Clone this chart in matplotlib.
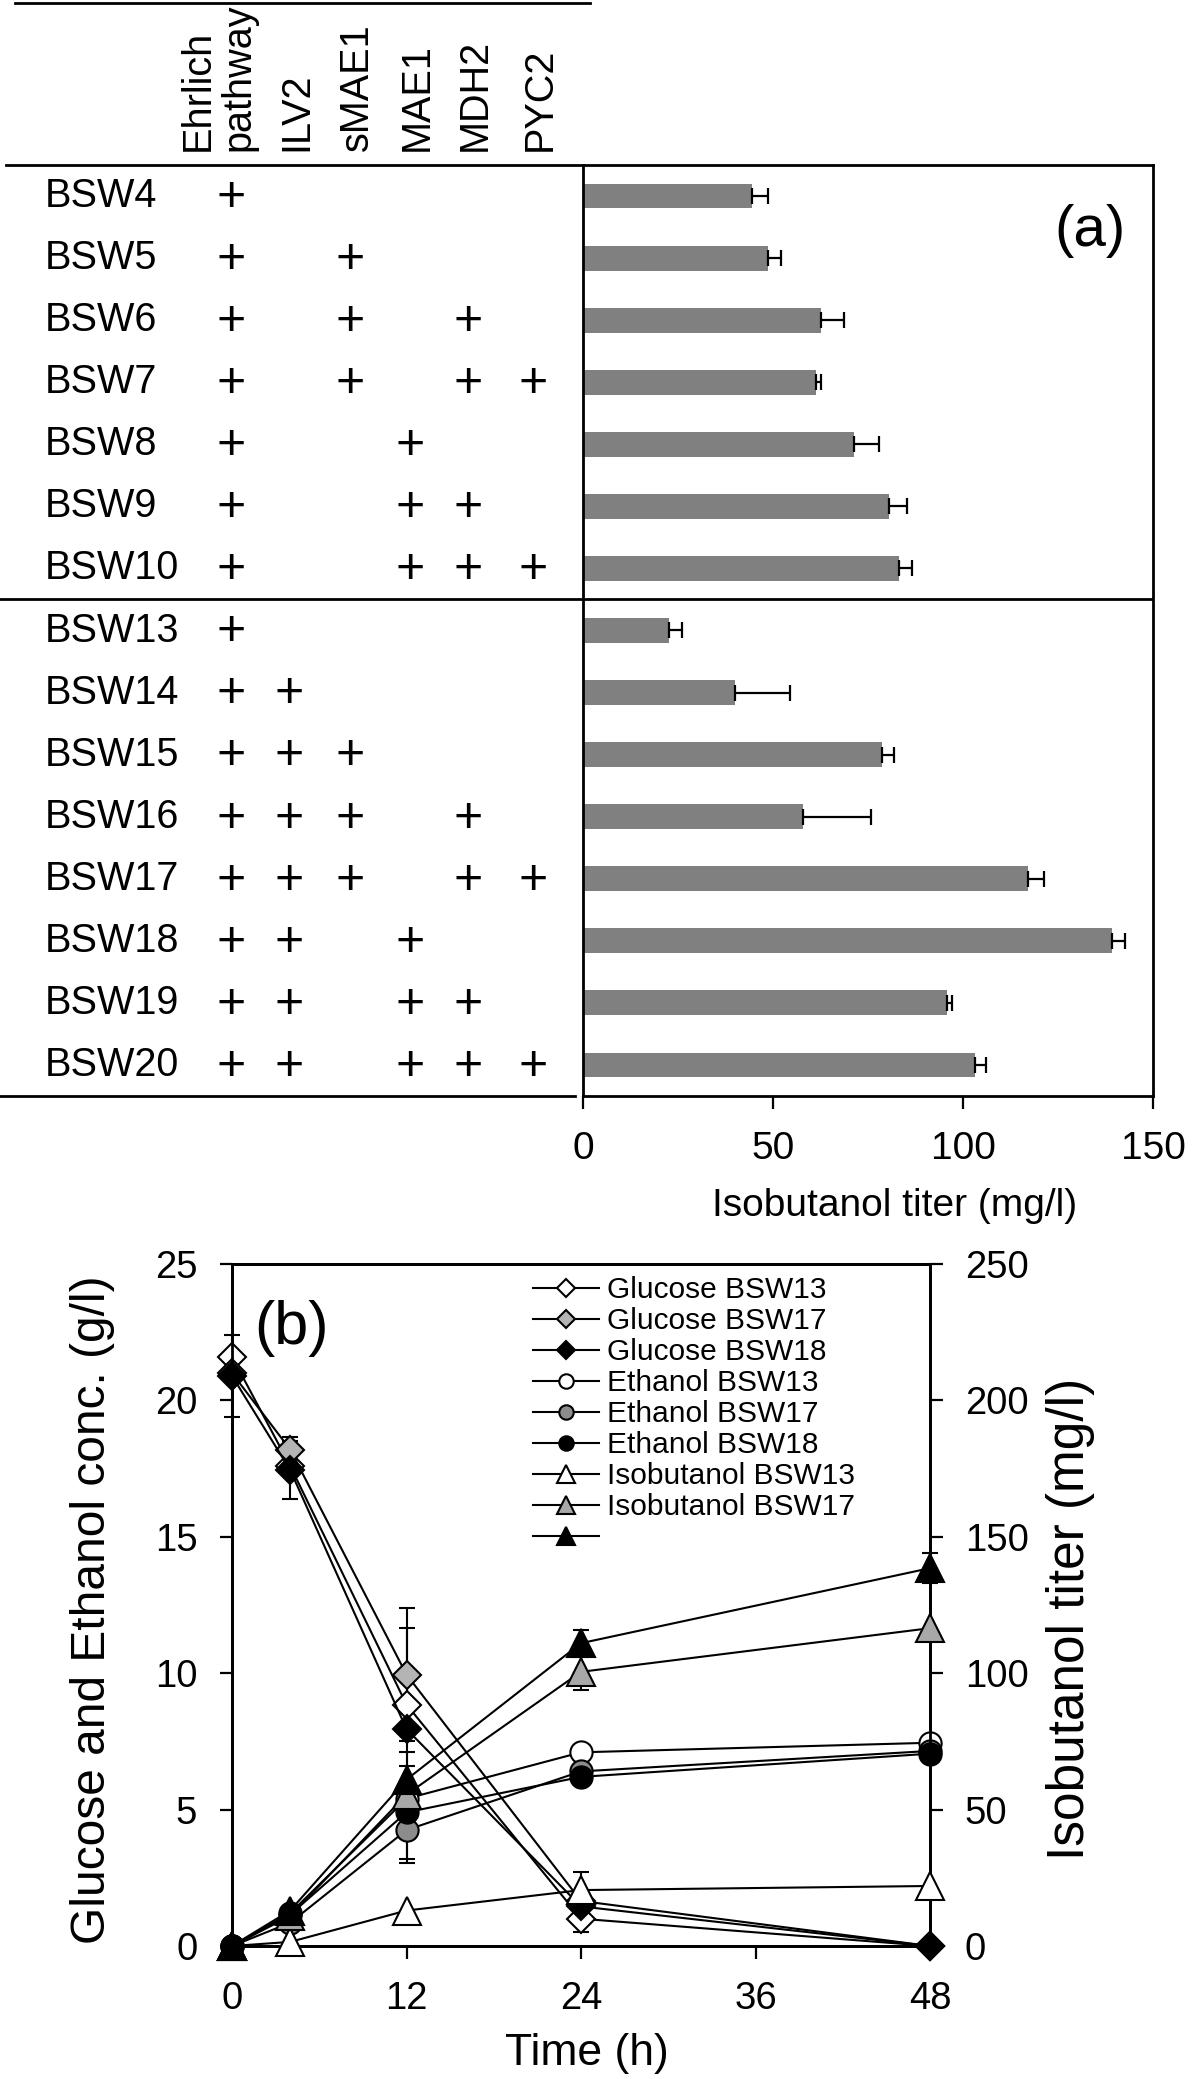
import numpy as np
import matplotlib
matplotlib.use('Agg')
import matplotlib.pyplot as plt
from matplotlib.lines import Line2D

plt.rcParams['font.family'] = ['Liberation Sans', 'DejaVu Sans']

# ---------------- Panel (a) data ----------------
strains = ['BSW4', 'BSW5', 'BSW6', 'BSW7', 'BSW8', 'BSW9', 'BSW10',
           'BSW13', 'BSW14', 'BSW15', 'BSW16', 'BSW17', 'BSW18', 'BSW19', 'BSW20']
genes = ['Ehrlich\npathway', 'ILV2', 'sMAE1', 'MAE1', 'MDH2', 'PYC2']
# presence of each modification (columns follow `genes`)
modifications = [
    [1, 0, 0, 0, 0, 0],
    [1, 0, 1, 0, 0, 0],
    [1, 0, 1, 0, 1, 0],
    [1, 0, 1, 0, 1, 1],
    [1, 0, 0, 1, 0, 0],
    [1, 0, 0, 1, 1, 0],
    [1, 0, 0, 1, 1, 1],
    [1, 0, 0, 0, 0, 0],
    [1, 1, 0, 0, 0, 0],
    [1, 1, 1, 0, 0, 0],
    [1, 1, 1, 0, 1, 0],
    [1, 1, 1, 0, 1, 1],
    [1, 1, 0, 1, 0, 0],
    [1, 1, 0, 1, 1, 0],
    [1, 1, 0, 1, 1, 1],
]
titer = [44.6, 48.6, 62.6, 61.2, 71.2, 80.5, 83.2,
         22.7, 40.1, 78.6, 57.9, 117.1, 139.1, 95.9, 103.1]
titer_err = [4.0, 3.4, 6.0, 1.4, 6.8, 4.8, 3.4,
             3.4, 14.3, 3.3, 17.9, 4.1, 3.5, 1.3, 3.0]
group_break = 7  # BSW4-10 | BSW13-20
xticks_a = [0, 50, 100, 150]

# ---------------- Panel (b) data ----------------
time_h = [0, 4, 12, 24, 48]
glucose_13 = [21.6, 17.6, 8.85, 1.0, 0.0]
glucose_17 = [21.0, 18.2, 9.95, 1.65, 0.0]
glucose_18 = [20.9, 17.45, 7.95, 1.45, 0.0]
glucose_13_err = [0, 0, 2.8, 0.5, 0]
glucose_17_err = [0, 0.45, 2.45, 0, 0]
glucose_18_err = [1.5, 1.08, 0, 0, 0]
ethanol_13 = [0.0, 1.2, 5.4, 7.1, 7.45]
ethanol_17 = [0.0, 0.85, 4.25, 6.4, 7.15]
ethanol_18 = [0.0, 1.15, 4.9, 6.2, 7.05]
ethanol_13_err = [0, 0, 0, 0, 0]
ethanol_17_err = [0, 0, 1.2, 0, 0]
ethanol_18_err = [0, 0, 1.7, 0, 0]
isobutanol_13 = [0.0, 1.5, 13.0, 20.5, 22.0]
isobutanol_17 = [0.0, 11.0, 55.5, 100.5, 116.5]
isobutanol_18 = [0.0, 13.0, 61.0, 111.0, 138.5]
isobutanol_13_err = [0, 0, 0, 6.5, 0]
isobutanol_17_err = [0, 0, 0, 6.7, 0]
isobutanol_18_err = [0, 0, 10.0, 5.0, 5.5]
legend_labels = ['Glucose BSW13', 'Glucose BSW17', 'Glucose BSW18',
                 'Ethanol BSW13', 'Ethanol BSW17', 'Ethanol BSW18',
                 'Isobutanol BSW13', 'Isobutanol BSW17', ' ']

W, H = 1200, 2079
fig = plt.figure(figsize=(W / 100, H / 100), dpi=100)

# ================= Panel (a) =================
a_left, a_right, a_top, a_bot = 583, 1153, 165, 1096
ax_a = fig.add_axes([a_left / W, 1 - a_bot / H, (a_right - a_left) / W, (a_bot - a_top) / H])
ax_t = fig.add_axes([0, 1 - a_bot / H, a_left / W, (a_bot - a_top) / H], sharey=ax_a)

ypos = np.arange(len(strains))
ax_a.barh(ypos, titer, height=0.4, color='#808080', zorder=2)
ax_a.errorbar(titer, ypos, xerr=[np.zeros(len(titer)), titer_err], fmt='none',
              ecolor='black', elinewidth=1.6, capsize=5.5, capthick=1.6, zorder=3)
ax_a.set_xlim(0, 150)
ax_a.set_ylim(len(strains) - 0.5, -0.5)
ax_a.axhline(group_break - 0.5, color='black', lw=2)
ax_a.set_xticks(xticks_a)
ax_a.set_yticks([])
ax_a.tick_params(axis='x', direction='out', length=9, width=1.6, labelsize=28, pad=16)
for sp in ax_a.spines.values():
    sp.set_linewidth(2)
ax_a.set_xlabel('Isobutanol titer (mg/l)', fontsize=28)
ax_a.xaxis.set_label_coords(0.547, -0.118)
ax_a.xaxis.label.set_va('center')
ax_a.text(0.889, 0.929, '(a)', transform=ax_a.transAxes, fontsize=42,
          ha='center', va='center')

# table on the left
ax_t.set_xlim(0, a_left)
ax_t.axis('off')
col_x = [231, 289, 350, 410, 468, 533]
for i, s in enumerate(strains):
    ax_t.text(45, i, s, ha='left', va='center', fontsize=28.5)
    for j, flag in enumerate(modifications[i]):
        if flag:
            ax_t.text(col_x[j], i + 0.03, '+', ha='center', va='center', fontsize=36)
header_y = -0.5 - 14 / 62.07
for j, g in enumerate(genes):
    lines = g.split('\n')
    for k, line in enumerate(lines):
        x = col_x[j] + 7 + (k - (len(lines) - 1)) * 40
        ax_t.text(x, header_y, line, rotation=90, ha='center', va='bottom',
                  fontsize=28.5, clip_on=False)
ax_t.plot([6, a_left], [-0.5, -0.5], color='black', lw=2, clip_on=False)
ax_t.plot([0, a_left], [group_break - 0.5] * 2, color='black', lw=2, clip_on=False)
ax_t.plot([0, 575], [len(strains) - 0.5] * 2, color='black', lw=2, clip_on=False)
fig.add_artist(Line2D([15 / W, 590 / W], [1 - 2.5 / H] * 2, transform=fig.transFigure,
                      color='black', lw=2))

# ================= Panel (b) =================
b_left, b_right, b_top, b_bot = 232, 930, 1264, 1946
ax_b = fig.add_axes([b_left / W, 1 - b_bot / H, (b_right - b_left) / W, (b_bot - b_top) / H])
ax_b2 = ax_b.twinx()

t = np.array(time_h, dtype=float)


def draw(ax, y, err, marker, ms, fc, z):
    y = np.asarray(y, dtype=float)
    err = np.asarray(err, dtype=float)
    m = err > 0
    if m.any():
        ax.errorbar(t[m], y[m], yerr=err[m], fmt='none', ecolor='black',
                    elinewidth=1.5, capsize=5.5, capthick=1.5, zorder=z - 0.5,
                    clip_on=False)
    ln, = ax.plot(t, y, color='black', lw=1.5, marker=marker, ms=ms,
                  markerfacecolor=fc, markeredgecolor='black', markeredgewidth=1.5,
                  zorder=z, clip_on=False)
    return ln


handles = []
handles.append(draw(ax_b, glucose_13, glucose_13_err, 'D', 14, 'white', 3))
handles.append(draw(ax_b, glucose_17, glucose_17_err, 'D', 14, '#b4b4b4', 3.1))
handles.append(draw(ax_b, glucose_18, glucose_18_err, 'D', 14, 'black', 3.2))
handles.append(draw(ax_b, ethanol_13, ethanol_13_err, 'o', 16, 'white', 3.3))
handles.append(draw(ax_b, ethanol_17, ethanol_17_err, 'o', 16, '#8c8c8c', 3.4))
handles.append(draw(ax_b, ethanol_18, ethanol_18_err, 'o', 16, 'black', 3.5))
handles.append(draw(ax_b2, isobutanol_13, isobutanol_13_err, '^', 20, 'white', 3.6))
handles.append(draw(ax_b2, isobutanol_17, isobutanol_17_err, '^', 20, '#a8a8a8', 3.7))
handles.append(draw(ax_b2, isobutanol_18, isobutanol_18_err, '^', 20, 'black', 3.8))

ax_b.set_xlim(0, 48)
ax_b.set_ylim(0, 25)
ax_b2.set_ylim(0, 250)
ax_b.set_xticks([0, 12, 24, 36, 48])
ax_b.set_yticks([0, 5, 10, 15, 20, 25])
ax_b2.set_yticks([0, 50, 100, 150, 200, 250])
ax_b.tick_params(axis='both', direction='out', length=9, width=1.6, labelsize=27.5, pad=16)
ax_b2.tick_params(axis='y', direction='out', length=9, width=1.6, labelsize=27.5, pad=16)
for ax in (ax_b, ax_b2):
    for sp in ax.spines.values():
        sp.set_linewidth(2)

ax_b.set_xlabel('Time (h)', fontsize=32)
ax_b.xaxis.set_label_coords(0.509, -0.157)
ax_b.xaxis.label.set_va('center')
ax_b.set_ylabel('Glucose and Ethanol conc. (g/l)', fontsize=34.5)
ax_b.yaxis.set_label_coords(-0.2, 0.493)
ax_b.yaxis.label.set_va('center')
ax_b2.set_ylabel('Isobutanol titer (mg/l)', fontsize=37)
ax_b2.yaxis.set_label_coords(1.202, 0.48)
ax_b2.yaxis.label.set_va('center')

ax_b.text(0.085, 0.906, '(b)', transform=ax_b.transAxes, fontsize=44,
          ha='center', va='center')

leg = ax_b2.legend(handles, legend_labels, loc='upper left', bbox_to_anchor=(0.431, 0.982),
                   frameon=False, fontsize=21.5, handlelength=2.2, handletextpad=0.27,
                   labelspacing=0.1, borderpad=0, borderaxespad=0, markerscale=0.65)

fig.savefig('out.png', dpi=100)
